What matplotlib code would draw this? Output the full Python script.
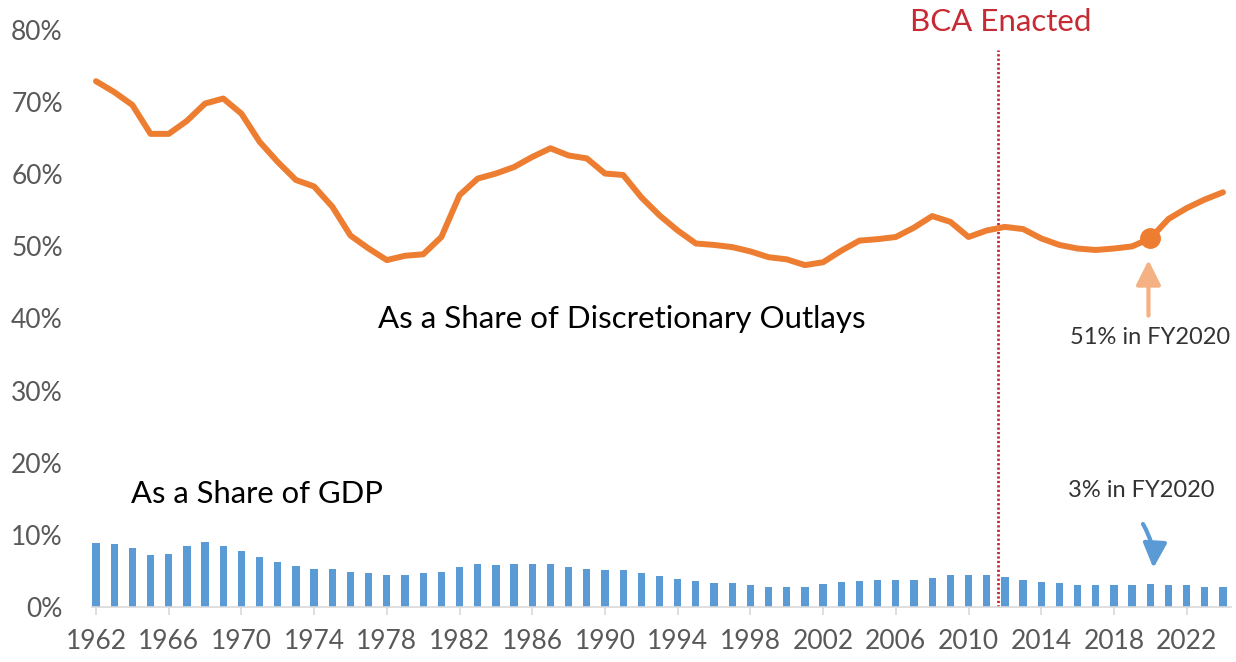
import matplotlib
matplotlib.use("Agg")
import matplotlib.pyplot as plt

years = list(range(1962, 2025))

share_outlays = [72.9, 71.4, 69.6, 65.6, 65.6, 67.4, 69.8, 70.5, 68.4, 64.5,
                 61.7, 59.2, 58.3, 55.5, 51.5, 49.7, 48.1, 48.7, 48.9, 51.3,
                 57.1, 59.4, 60.1, 61.0, 62.4, 63.6, 62.6, 62.2, 60.1, 59.9,
                 56.8, 54.3, 52.2, 50.4, 50.2, 49.9, 49.3, 48.5, 48.2, 47.4,
                 47.8, 49.4, 50.8, 51.0, 51.3, 52.6, 54.2, 53.4, 51.3, 52.2,
                 52.7, 52.4, 51.1, 50.2, 49.7, 49.5, 49.7, 50.0, 51.1, 53.8,
                 55.3, 56.5, 57.5]

share_gdp = [8.9, 8.7, 8.2, 7.2, 7.4, 8.5, 9.0, 8.5, 7.7, 6.9,
             6.3, 5.7, 5.2, 5.2, 4.9, 4.7, 4.5, 4.5, 4.7, 4.9,
             5.5, 5.9, 5.8, 5.9, 5.9, 5.9, 5.5, 5.2, 5.1, 5.1,
             4.7, 4.3, 3.9, 3.6, 3.3, 3.3, 3.0, 2.8, 2.8, 2.8,
             3.2, 3.4, 3.6, 3.8, 3.8, 3.8, 4.0, 4.5, 4.5, 4.5,
             4.1, 3.7, 3.5, 3.3, 3.1, 3.0, 3.0, 3.0, 3.2, 3.0,
             3.0, 2.8, 2.8]

tick_years = list(range(1962, 2025, 4))
y_ticks = list(range(0, 81, 10))
bca_year = 2011.6
highlight_year = 2020

FONT = ["Lato", "DejaVu Sans"]
plt.rcParams['font.family'] = FONT

fig = plt.figure(figsize=(12.36, 6.62), dpi=100)
ax = fig.add_axes([92/1236, (662-607)/662, (1231-92)/1236, 577/662])

ax.bar(years, share_gdp, width=0.40, color="#5B9BD5", zorder=2)
ax.plot(years, share_outlays, color="#ED7D31", lw=4.3, solid_joinstyle="round",
        solid_capstyle="round", zorder=3)
hi = years.index(highlight_year)
ax.plot([years[hi]], [share_outlays[hi]], "o", color="#ED7D31", ms=14, zorder=4)

ax.plot([bca_year, bca_year], [0, 77.2], color="#C62A32", lw=2.0,
        linestyle=(0, (0.8, 0.8)), zorder=1)

ax.set_xlim(1962 - 4/18.17, 2024 + 8/18.17)
ax.set_ylim(0, 80)

ax.set_xticks(tick_years)
ax.set_xticklabels([str(y) for y in tick_years])
ax.set_yticks(y_ticks)
ax.set_yticklabels([f"{v}%" for v in y_ticks])

for s in ["top", "right", "left"]:
    ax.spines[s].set_visible(False)
ax.spines["bottom"].set_color("#D9D9D9")
ax.spines["bottom"].set_linewidth(1.2)

ax.tick_params(axis="x", colors="#D9D9D9", length=6, width=1.2, pad=10,
               labelcolor="#595959", labelsize=19)
ax.tick_params(axis="y", length=0, pad=21, labelcolor="#595959", labelsize=19)

ax.text(1990.9, 38.75, "As a Share of Discretionary Outlays", ha="center", va="baseline",
        fontsize=22.5, color="#000000")
ax.text(1963.9, 14.4, "As a Share of GDP", ha="left", va="baseline",
        fontsize=22.3, color="#000000")
ax.text(2020.0, 36.4, "51% in FY2020", ha="center", va="baseline",
        fontsize=17, color="#333333")
ax.text(2019.5, 15.2, "3% in FY2020", ha="center", va="baseline",
        fontsize=17, color="#333333")
ax.text(2011.75, 81.1, "BCA Enacted", ha="center", va="center",
        fontsize=22.5, color="#C62A32", clip_on=False)

ax.annotate("", xy=(2019.9, 48.1), xytext=(2019.9, 40.4),
            arrowprops=dict(arrowstyle="-|>,head_length=1.0,head_width=0.5",
                            color="#F4B183", lw=3, mutation_scale=15,
                            shrinkA=0, shrinkB=0), zorder=5)
ax.annotate("", xy=(2020.17, 5.4), xytext=(2019.6, 11.5),
            arrowprops=dict(arrowstyle="-|>,head_length=1.0,head_width=0.48",
                            connectionstyle="arc3,rad=-0.15",
                            color="#5B9BD5", lw=3, mutation_scale=15,
                            shrinkA=0, shrinkB=0), zorder=5)

fig.savefig("out.png", dpi=100)
